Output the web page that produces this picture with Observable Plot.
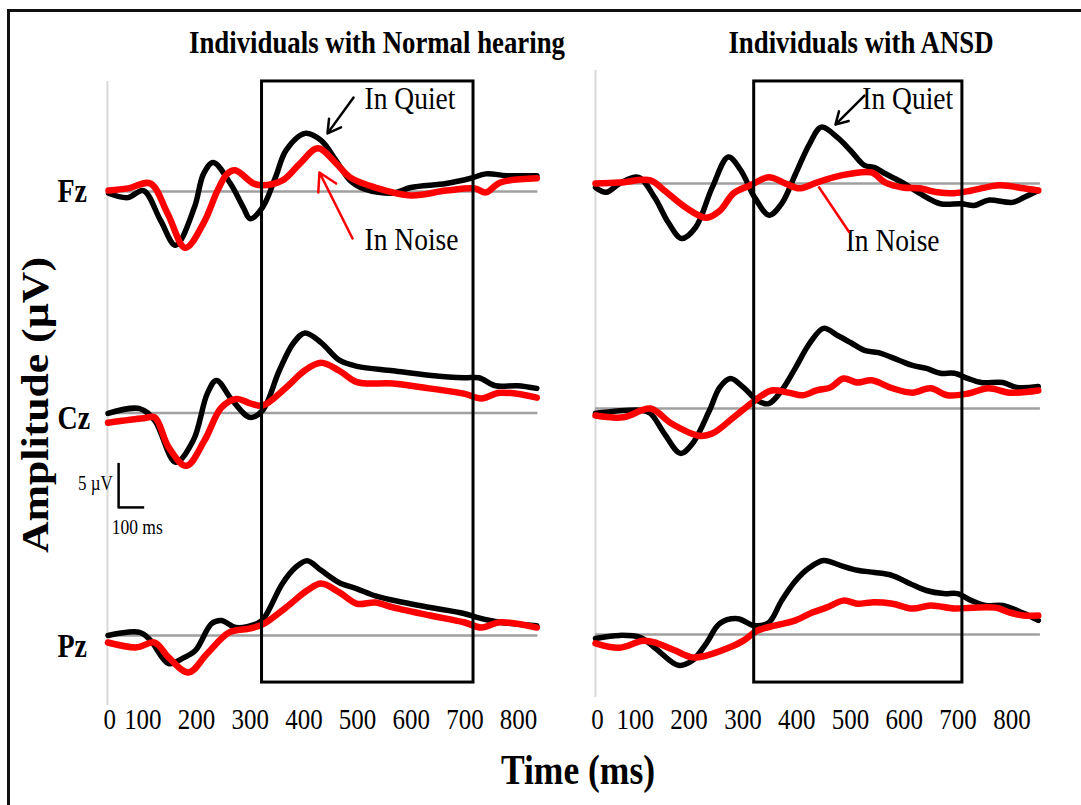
<!DOCTYPE html>
<html><head><meta charset="utf-8">
<script src="https://cdn.jsdelivr.net/npm/d3@7"></script>
<script src="https://cdn.jsdelivr.net/npm/@observablehq/plot@0.6"></script>
<style>
html,body{margin:0;padding:0;background:#fff;}
#fig{position:relative;width:1081px;height:805px;overflow:hidden;background:#fff;font-family:"Liberation Serif","Times New Roman",serif;color:#000;}
#fig svg{position:absolute;top:0;}
.frame{position:absolute;left:7px;top:9px;width:1200px;height:1000px;border-left:3px solid #111;border-top:3px solid #111;box-sizing:border-box;z-index:5;}
.lbl{position:absolute;white-space:nowrap;line-height:1;z-index:6;}
</style></head><body>
<div id="fig"><div class="frame"></div></div>
<script>
// ---------------- DATA (time in ms, amplitude in µV relative to channel baseline) ----------------
const channels = ["Fz", "Cz", "Pz"];
const timeTicks = [0, 100, 200, 300, 400, 500, 600, 700, 800];
const panelTitles = ["Individuals with Normal hearing", "Individuals with ANSD"];

// Individuals with normal hearing
const nhFzQuiet = [[36,-0.2],[72,-0.7],[101,0.1],[133,-3.3],[161,-6.1],[196,-1.8],[213,2.0],[231,3.3],[263,0.9],[287,-1.8],[300,-3.1],[323,-1.8],[347,1.6],[367,4.7],[402,6.6],[432,5.8],[460,3.5],[486,1.25],[512,0.3],[566,-0.2],[599,0.45],[665,0.9],[711,1.5],[739,2.0],[778,1.8],[834,1.8]];
const nhFzNoise = [[36,0.1],[72,0.35],[114,0.9],[146,-2.5],[179,-6.4],[213,-3.6],[239,0.1],[257,2.0],[272,2.4],[306,0.9],[321,0.7],[360,1.25],[393,3.2],[426,4.9],[460,3.2],[486,1.6],[533,0.45],[599,-0.45],[665,0.1],[718,0.35],[739,-0.1],[765,1.0],[834,1.5]];
const nhCzQuiet = [[35,-0.05],[94,0.5],[122,-0.85],[161,-5.6],[194,-3.1],[220,2.2],[237,3.7],[267,1.4],[300,-0.5],[323,0.3],[354,4.8],[380,7.9],[402,9.1],[432,8.0],[466,6.0],[499,5.3],[566,4.8],[633,4.3],[698,4.0],[726,4.0],[757,3.1],[798,3.1],[834,2.8]];
const nhCzNoise = [[35,-1.1],[101,-0.6],[122,-0.5],[148,-3.9],[181,-6.0],[215,-3.1],[246,0.6],[274,1.6],[300,1.1],[323,0.85],[367,2.9],[401,4.8],[432,5.7],[466,4.8],[499,3.5],[566,3.35],[633,2.8],[698,2.2],[731,1.65],[765,2.3],[834,1.75]];
const nhPzQuiet = [[35,0],[94,0.35],[114,-0.55],[148,-3.2],[174,-2.6],[198,-1.7],[228,1.35],[246,1.7],[274,0.9],[313,1.35],[326,2.0],[360,5.9],[384,7.7],[406,8.5],[432,7.4],[466,6.0],[499,5.3],[533,4.5],[566,4.0],[633,3.2],[698,2.5],[726,2.0],[765,1.5],[834,1.1]];
const nhPzNoise = [[35,-0.8],[88,-1.35],[122,-0.8],[148,-2.5],[185,-4.2],[220,-2.05],[261,0.35],[300,0.8],[326,1.35],[367,3.2],[406,5.1],[432,5.9],[466,4.9],[499,3.6],[533,3.75],[566,3.2],[633,2.3],[698,1.5],[731,0.9],[765,1.5],[834,0.9]];

// Individuals with ANSD
const ansdFzQuiet = [[26,-0.45],[46,-1.0],[71,0],[106,0.7],[136,-1.6],[162,-4.5],[186,-6.25],[212,-5.0],[243,-0.45],[273,3.0],[296,1.5],[322,-1.6],[349,-3.6],[372,-2.3],[398,1.1],[424,4.5],[446,6.4],[476,5.2],[500,3.75],[526,2.05],[545,1.8],[565,1.1],[597,0.1],[628,-1.1],[667,-2.3],[706,-2.3],[730,-2.5],[756,-1.9],[801,-2.15],[822,-1.6],[849,-0.8]];
const ansdFzNoise = [[26,0],[71,0.1],[128,0.35],[154,-0.8],[193,-2.7],[232,-3.9],[257,-3.1],[283,-1.1],[314,-0.2],[348,0.7],[379,0],[405,-0.55],[437,0.1],[468,0.7],[500,1.1],[539,1.25],[565,0.1],[597,-0.45],[628,-0.55],[662,-1.0],[693,-1.1],[725,-0.8],[777,-0.2],[822,-0.55],[849,-0.8]];
const ansdCzQuiet = [[26,-0.55],[110,-0.2],[128,-0.55],[154,-2.85],[184,-5.1],[206,-4.0],[238,-0.2],[257,2.4],[277,3.4],[301,2.4],[327,0.9],[348,0.55],[372,2.05],[398,4.65],[424,7.4],[450,9.1],[476,8.3],[500,7.5],[526,6.6],[552,6.35],[591,5.45],[615,4.9],[641,4.55],[667,4.0],[693,4.0],[719,3.4],[743,2.95],[783,2.95],[809,2.4],[849,2.5]];
const ansdCzNoise = [[26,-0.8],[78,-1.0],[128,0],[167,-1.7],[219,-3.1],[243,-2.85],[283,-1.0],[322,0.9],[353,2.05],[385,1.8],[411,1.5],[437,2.05],[463,2.4],[487,3.4],[513,2.95],[539,3.2],[578,2.3],[615,1.8],[649,2.3],[680,1.5],[719,1.7],[756,2.3],[796,1.8],[849,2.05]];
const ansdPzQuiet = [[26,-0.45],[71,-0.1],[110,-0.35],[136,-1.5],[180,-3.5],[206,-2.95],[232,-1.0],[257,1.25],[290,1.8],[322,1.0],[348,1.35],[372,3.85],[398,6.1],[424,7.6],[450,8.4],[481,7.85],[513,7.3],[545,7.05],[578,6.7],[610,5.8],[641,5.0],[673,4.65],[699,4.65],[725,3.85],[751,3.3],[783,3.3],[822,2.4],[849,1.6]];
const ansdPzNoise = [[26,-1.0],[71,-1.5],[115,-0.7],[141,-1.0],[173,-1.8],[206,-2.6],[232,-2.4],[270,-1.6],[301,-0.7],[327,0.45],[359,1.0],[398,1.6],[429,2.5],[455,3.05],[487,3.85],[513,3.5],[539,3.65],[578,3.5],[615,2.95],[649,3.3],[693,2.95],[725,3.05],[770,3.05],[796,2.5],[822,2.15],[849,2.15]];

// Analysis windows (ms)
const nhWindow = [322, 716];
const ansdWindow = [321, 708];

// ---------------- LAYOUT ----------------
const STRETCH = 1.18;               // the source image is stretched vertically
const FONT = "Liberation Serif, Times New Roman, serif";
const yDomain = [-69.77, 21.70];    // µV frame shared by both panels

const panels = [
  {
    left: 0, width: 545, xRange: [88.7, 518.1],
    quiet: {Fz: nhFzQuiet, Cz: nhCzQuiet, Pz: nhPzQuiet},
    noise: {Fz: nhFzNoise, Cz: nhCzNoise, Pz: nhPzNoise},
    offsets: {Fz: 0, Cz: -25.17, Pz: -50.45},
    start: 34, end: 836, axisTop: 12.5, axisBottom: -58.4,
    window: nhWindow, zeroDx: 20.5,
    quietText: [513, 10.57], quietArrow: [492.5, 10.68, 444, 6.6],
    noiseText: [513, -5.5], noiseArrow: [490.6, -5.34, 429, 2.16], noiseHead: true,
    showChannels: true
  },
  {
    left: 545, width: 536, xRange: [36, 466.4],
    quiet: {Fz: ansdFzQuiet, Cz: ansdCzQuiet, Pz: ansdPzQuiet},
    noise: {Fz: ansdFzNoise, Cz: ansdCzNoise, Pz: ansdPzNoise},
    offsets: {Fz: 0.91, Cz: -24.66, Pz: -50.34},
    start: 26, end: 853, axisTop: 13.75, axisBottom: -57.5,
    window: ansdWindow, zeroDx: 16,
    quietText: [522, 10.6], quietArrow: [526, 10.9, 472, 7.6],
    noiseText: [491, -5.6], noiseArrow: [498, -4.66, 440.5, 0.57], noiseHead: false,
    showChannels: false
  }
];
const rectTop = 12.5, rectBottom = -55.8, tickY = -60.0;
const labelShift = {Fz: 0, Cz: -0.6, Pz: -1.25};

function stretchText(svg, s) {
  d3.select(svg).selectAll("text").each(function () {
    const t = this.getAttribute("transform");
    if (t) this.setAttribute("transform", t + ` scale(1,${s})`);
    else {
      const x = this.getAttribute("x") || 0, y = this.getAttribute("y") || 0;
      this.removeAttribute("x"); this.removeAttribute("y");
      this.setAttribute("transform", `translate(${x},${y}) scale(1,${s})`);
    }
  });
}

const fig = document.getElementById("fig");

panels.forEach((p, pi) => {
  const marks = [];
  // light vertical axis
  marks.push(Plot.ruleX([p.start], {y1: () => p.axisTop, y2: () => p.axisBottom, stroke: "#d9d9d9", strokeWidth: 2}));
  // baselines
  marks.push(Plot.ruleY(channels, {y: c => p.offsets[c], x1: () => p.start, x2: () => p.end, stroke: "#a0a0a0", strokeWidth: 2.5}));
  // traces
  for (const c of channels) {
    marks.push(Plot.line(p.quiet[c], {x: d => d[0], y: d => d[1] + p.offsets[c], stroke: "#000", strokeWidth: 5.5, curve: "catmull-rom", strokeLinejoin: "round", strokeLinecap: "round"}));
  }
  for (const c of channels) {
    marks.push(Plot.line(p.noise[c], {x: d => d[0], y: d => d[1] + p.offsets[c], stroke: "#ff0000", strokeWidth: 6.5, curve: "catmull-rom", strokeLinejoin: "round", strokeLinecap: "round"}));
  }
  // window rectangle
  marks.push(Plot.rect([p.window], {x1: d => d[0], x2: d => d[1], y1: () => rectTop, y2: () => rectBottom, fill: "none", stroke: "#000", strokeWidth: 3}));
  // tick labels
  marks.push(Plot.text(timeTicks.filter(t => t !== 0), {x: t => t, y: () => tickY, text: t => String(t), fontSize: 25, fontFamily: FONT, fill: "#000"}));
  marks.push(Plot.text(timeTicks.filter(t => t === 0), {x: t => t, y: () => tickY, text: t => String(t), dx: p.zeroDx, fontSize: 25, fontFamily: FONT, fill: "#000"}));
  // annotations
  marks.push(Plot.text(["In Quiet"], {x: () => p.quietText[0], y: () => p.quietText[1], text: d => d, textAnchor: "start", fontSize: 27.5, fontFamily: FONT, fill: "#000"}));
  marks.push(Plot.text(["In Noise"], {x: () => p.noiseText[0], y: () => p.noiseText[1], text: d => d, textAnchor: "start", fontSize: 27.5, fontFamily: FONT, fill: "#000"}));
  marks.push(Plot.arrow([p.quietArrow], {x1: d => d[0], y1: d => d[1], x2: d => d[2], y2: d => d[3], stroke: "#000", strokeWidth: 2.5, headLength: 12}));
  if (p.noiseHead) {
    marks.push(Plot.arrow([p.noiseArrow], {x1: d => d[0], y1: d => d[1], x2: d => d[2], y2: d => d[3], stroke: "#ff0000", strokeWidth: 2.5, headLength: 12}));
  } else {
    marks.push(Plot.link([p.noiseArrow], {x1: d => d[0], y1: d => d[1], x2: d => d[2], y2: d => d[3], stroke: "#ff0000", strokeWidth: 2.5}));
  }
  if (p.showChannels) {
    marks.push(Plot.text(channels, {frameAnchor: "left", dx: 57, y: c => p.offsets[c] + labelShift[c], text: c => c, textAnchor: "start", fontWeight: "bold", fontSize: 28, fontFamily: FONT, fill: "#000"}));
    // scale bar: 5 µV / 100 ms
    marks.push(Plot.ruleX([54.8], {y1: () => -30.9, y2: () => -35.9, stroke: "#000", strokeWidth: 2.5}));
    marks.push(Plot.ruleY([-35.9], {x1: () => 53.6, x2: () => 103.4, stroke: "#000", strokeWidth: 2.5}));
    marks.push(Plot.text(["5 µV"], {x: () => 43.8, y: () => -33.2, text: d => d, textAnchor: "end", fontSize: 17, fontFamily: FONT, fill: "#000"}));
    marks.push(Plot.text(["100 ms"], {x: () => 41.9, y: () => -38.2, text: d => d, textAnchor: "start", fontSize: 17.5, fontFamily: FONT, fill: "#000"}));
  }

  const svg = Plot.plot({
    width: p.width, height: 805,
    marginTop: 0, marginBottom: 0, marginLeft: 0, marginRight: 0,
    x: {domain: [0, 800], range: p.xRange, axis: null},
    y: {domain: yDomain, range: [805, 0], axis: null},
    style: {background: "transparent", overflow: "visible"},
    marks
  });
  svg.style.left = p.left + "px";
  svg.style.maxWidth = "none";
  stretchText(svg, STRETCH);
  fig.appendChild(svg);
});

// HTML labels (titles, axis titles)
function addLabel(text, cx, cy, size, bold, extra) {
  const d = document.createElement("div");
  d.className = "lbl";
  d.textContent = text;
  d.style.left = cx + "px";
  d.style.top = cy + "px";
  d.style.fontSize = size + "px";
  d.style.fontWeight = bold ? "bold" : "normal";
  d.style.transform = `translate(-50%,-50%) ${extra}`;
  fig.appendChild(d);
}
addLabel(panelTitles[0], 377, 43, 26.8, true, `scaleY(${STRETCH})`);
addLabel(panelTitles[1], 861, 43, 26.8, true, `scaleY(${STRETCH})`);
addLabel("Time (ms)", 578, 771, 35.5, true, `scaleY(${STRETCH})`);
addLabel("Amplitude (µV)", 35, 405, 38, true, `scaleY(1.15) rotate(-90deg)`);
</script>
</body></html>
